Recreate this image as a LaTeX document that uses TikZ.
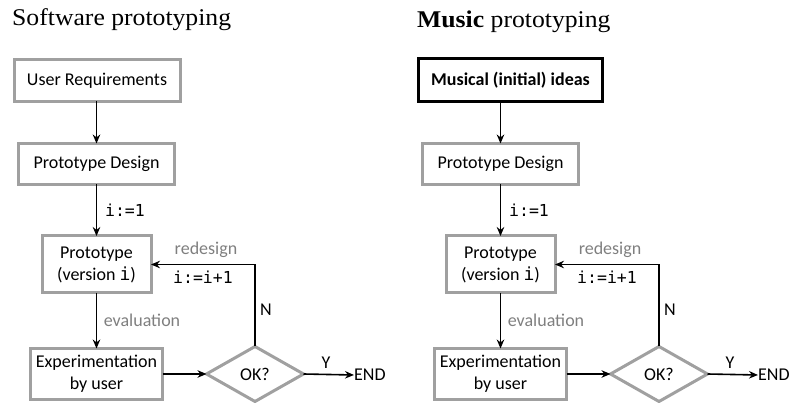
\documentclass[tikz,border=0pt]{standalone}
\usepackage{fontspec}
\setmainfont{Carlito}
\newfontfamily\titlefont[FakeStretch=1.07]{Liberation Serif}
\newfontfamily\codefont{DejaVu Sans Mono}
\usetikzlibrary{shapes.geometric,arrows.meta}
\definecolor{boxgray}{HTML}{A0A0A0}
\definecolor{labelgray}{HTML}{7F7F7F}
\tikzset{
  stepbox/.style={draw=boxgray, line width=3pt, fill=white, inner sep=0pt,
    outer sep=0pt, align=center, font=\fontsize{18}{22}\selectfont},
  ideabox/.style={stepbox, draw=black, font=\fontsize{18}{22}\selectfont\bfseries},
  decision/.style={diamond, draw=boxgray, line width=3pt, inner sep=0pt,
    outer sep=0pt, aspect=1.76, minimum width=97pt, minimum height=55pt,
    font=\fontsize{18}{22}\selectfont},
  flow/.style={-{Stealth[length=9pt,width=7.5pt]}, line width=1.6pt},
  code/.style={inner sep=0pt, font=\codefont\fontsize{16.5}{20}\selectfont},
  note/.style={inner sep=0pt, text=labelgray, font=\fontsize{18}{22}\selectfont},
  plain/.style={inner sep=0pt, font=\fontsize{18}{22}\selectfont},
  heading/.style={anchor=base west, inner sep=0pt, font=\titlefont\fontsize{24}{28}\selectfont},
}
\newcommand{\vi}{{\codefont i}}
\begin{document}
\begin{tikzpicture}[x=1pt, y=-1pt]
\useasboundingbox (0,0) rectangle (793,403);

% titles
\node[heading] (L-title) at (12,26) {Software prototyping};
\node[heading] (R-title) at (417,28) {\textbf{Music} prototyping};

% first step of each process
\node[stepbox, minimum width=166pt, minimum height=42pt] (L-top) at (97,80.5) {User Requirements};
\node[ideabox, minimum width=184pt, minimum height=43pt] (R-top) at (510.5,80) {Musical (initial) ideas};

\foreach \p/\dx in {L/0, R/404} {
  \begin{scope}[xshift=\dx pt]
    \node[stepbox, minimum width=156pt, minimum height=41pt] (\p-design) at (96.5,164) {Prototype Design};
    \node[stepbox, minimum width=109pt, minimum height=57pt] (\p-proto) at (96.5,264.5) {Prototype\\(version \vi)};
    \node[stepbox, minimum width=132pt, minimum height=51pt] (\p-exp) at (96.5,374) {Experimentation\\by user};
    \node[decision] (\p-ok) at (255,374) {OK?};
    \node[plain, anchor=west] (\p-end) at (354,375) {END};

    % connectors
    \draw[flow] (\p-design.north |- \p-top.south) -- (\p-design.north);
    \draw[flow] (\p-design) -- (\p-proto);
    \draw[flow] (\p-proto) -- (\p-exp);
    \draw[flow] (\p-exp) -- (\p-ok);
    \draw[flow] (\p-ok.east) -- (\p-end.west);
    \draw[flow] (\p-ok.north) -- (\p-ok.north |- \p-proto.east) -- (\p-proto.east);

    % connector labels
    \node[code] (\p-init) at (125,210) {i:=1};
    \node[note] (\p-eval) at (142,320) {evaluation};
    \node[note] (\p-redesign) at (206,250) {redesign};
    \node[code] (\p-incr) at (203,277) {i:=i+1};
    \node[plain] (\p-no) at (266,310) {N};
    \node[plain] (\p-yes) at (326,363) {Y};
  \end{scope}
}
\end{tikzpicture}
\end{document}
